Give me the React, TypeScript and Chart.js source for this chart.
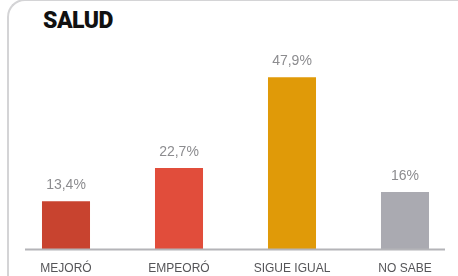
import React, { useEffect, useRef } from "react";
import { Chart, registerables } from "chart.js";

Chart.register(...registerables);

const categories = ["MEJORÓ", "EMPEORÓ", "SIGUE IGUAL", "NO SABE"];
const values = [13.4, 22.7, 47.9, 16];
const valueLabels = ["13,4%", "22,7%", "47,9%", "16%"];
const barColors = ["#c8432f", "#e14d3b", "#e09a08", "#aaaab1"];

const valueLabelPlugin = {
  id: "valueLabels",
  afterDatasetsDraw(chart: any) {
    const ctx = chart.ctx;
    const meta = chart.getDatasetMeta(0);
    ctx.save();
    ctx.font = '14px "Liberation Sans", Arial, sans-serif';
    ctx.fillStyle = "#8c8c8f";
    ctx.textAlign = "center";
    ctx.textBaseline = "bottom";
    meta.data.forEach((bar: any, i: number) => {
      ctx.fillText(valueLabels[i], bar.x, bar.y - 9);
    });
    ctx.restore();
  },
};

const baselinePlugin = {
  id: "baseline",
  afterDatasetsDraw(chart: any) {
    const ctx = chart.ctx;
    const area = chart.chartArea;
    const y = chart.scales.y.getPixelForValue(0);
    ctx.save();
    ctx.strokeStyle = "#b4b4b8";
    ctx.lineWidth = 2;
    ctx.beginPath();
    ctx.moveTo(area.left + 15.5, y);
    ctx.lineTo(area.right - 16.5, y);
    ctx.stroke();
    ctx.restore();
  },
};

export default function App() {
  const canvasRef = useRef<HTMLCanvasElement>(null);

  useEffect(() => {
    document.body.style.margin = "0";
    document.body.style.overflow = "hidden";
    const chart = new Chart(canvasRef.current!, {
      type: "bar",
      data: {
        labels: categories,
        datasets: [
          {
            data: values,
            backgroundColor: barColors,
            borderWidth: 0,
            barPercentage: 0.425,
            categoryPercentage: 1,
          },
        ],
      },
      options: {
        animation: false,
        responsive: false,
        maintainAspectRatio: false,
        layout: { padding: { left: 9.5, right: 2.5, top: 33.6, bottom: -12 } },
        plugins: {
          legend: { display: false },
          tooltip: { enabled: false },
          title: { display: false },
        },
        scales: {
          x: {
            grid: { display: false, drawTicks: false },
            border: { display: false },
            ticks: {
              color: "#555558",
              font: { family: '"Liberation Sans", Arial, sans-serif', size: 12 },
              padding: 12,
              maxRotation: 0,
              autoSkip: false,
            },
          },
          y: {
            display: false,
            min: 0,
            max: 60,
          },
        },
      },
      plugins: [valueLabelPlugin, baselinePlugin],
    });
    return () => chart.destroy();
  }, []);

  return (
    <div style={{ position: "relative", width: 458, height: 276, overflow: "hidden", background: "#fff" }}>
      <div
        style={{
          position: "absolute",
          left: 7,
          top: -1,
          width: 500,
          height: 320,
          borderLeft: "2px solid #d4d4d6",
          borderTop: "2px solid #d4d4d6",
          borderTopLeftRadius: 18,
          boxSizing: "border-box",
        }}
      />
      <div
        style={{
          position: "absolute",
          left: 43,
          top: 8,
          fontFamily: "Roboto, sans-serif",
          fontWeight: 900,
          fontSize: 23,
          lineHeight: "26px",
          color: "#111",
          letterSpacing: -0.5,
        }}
      >
        SALUD
      </div>
      <canvas ref={canvasRef} width={464} height={276} style={{ position: "absolute", left: 0, top: 0 }} />
    </div>
  );
}
